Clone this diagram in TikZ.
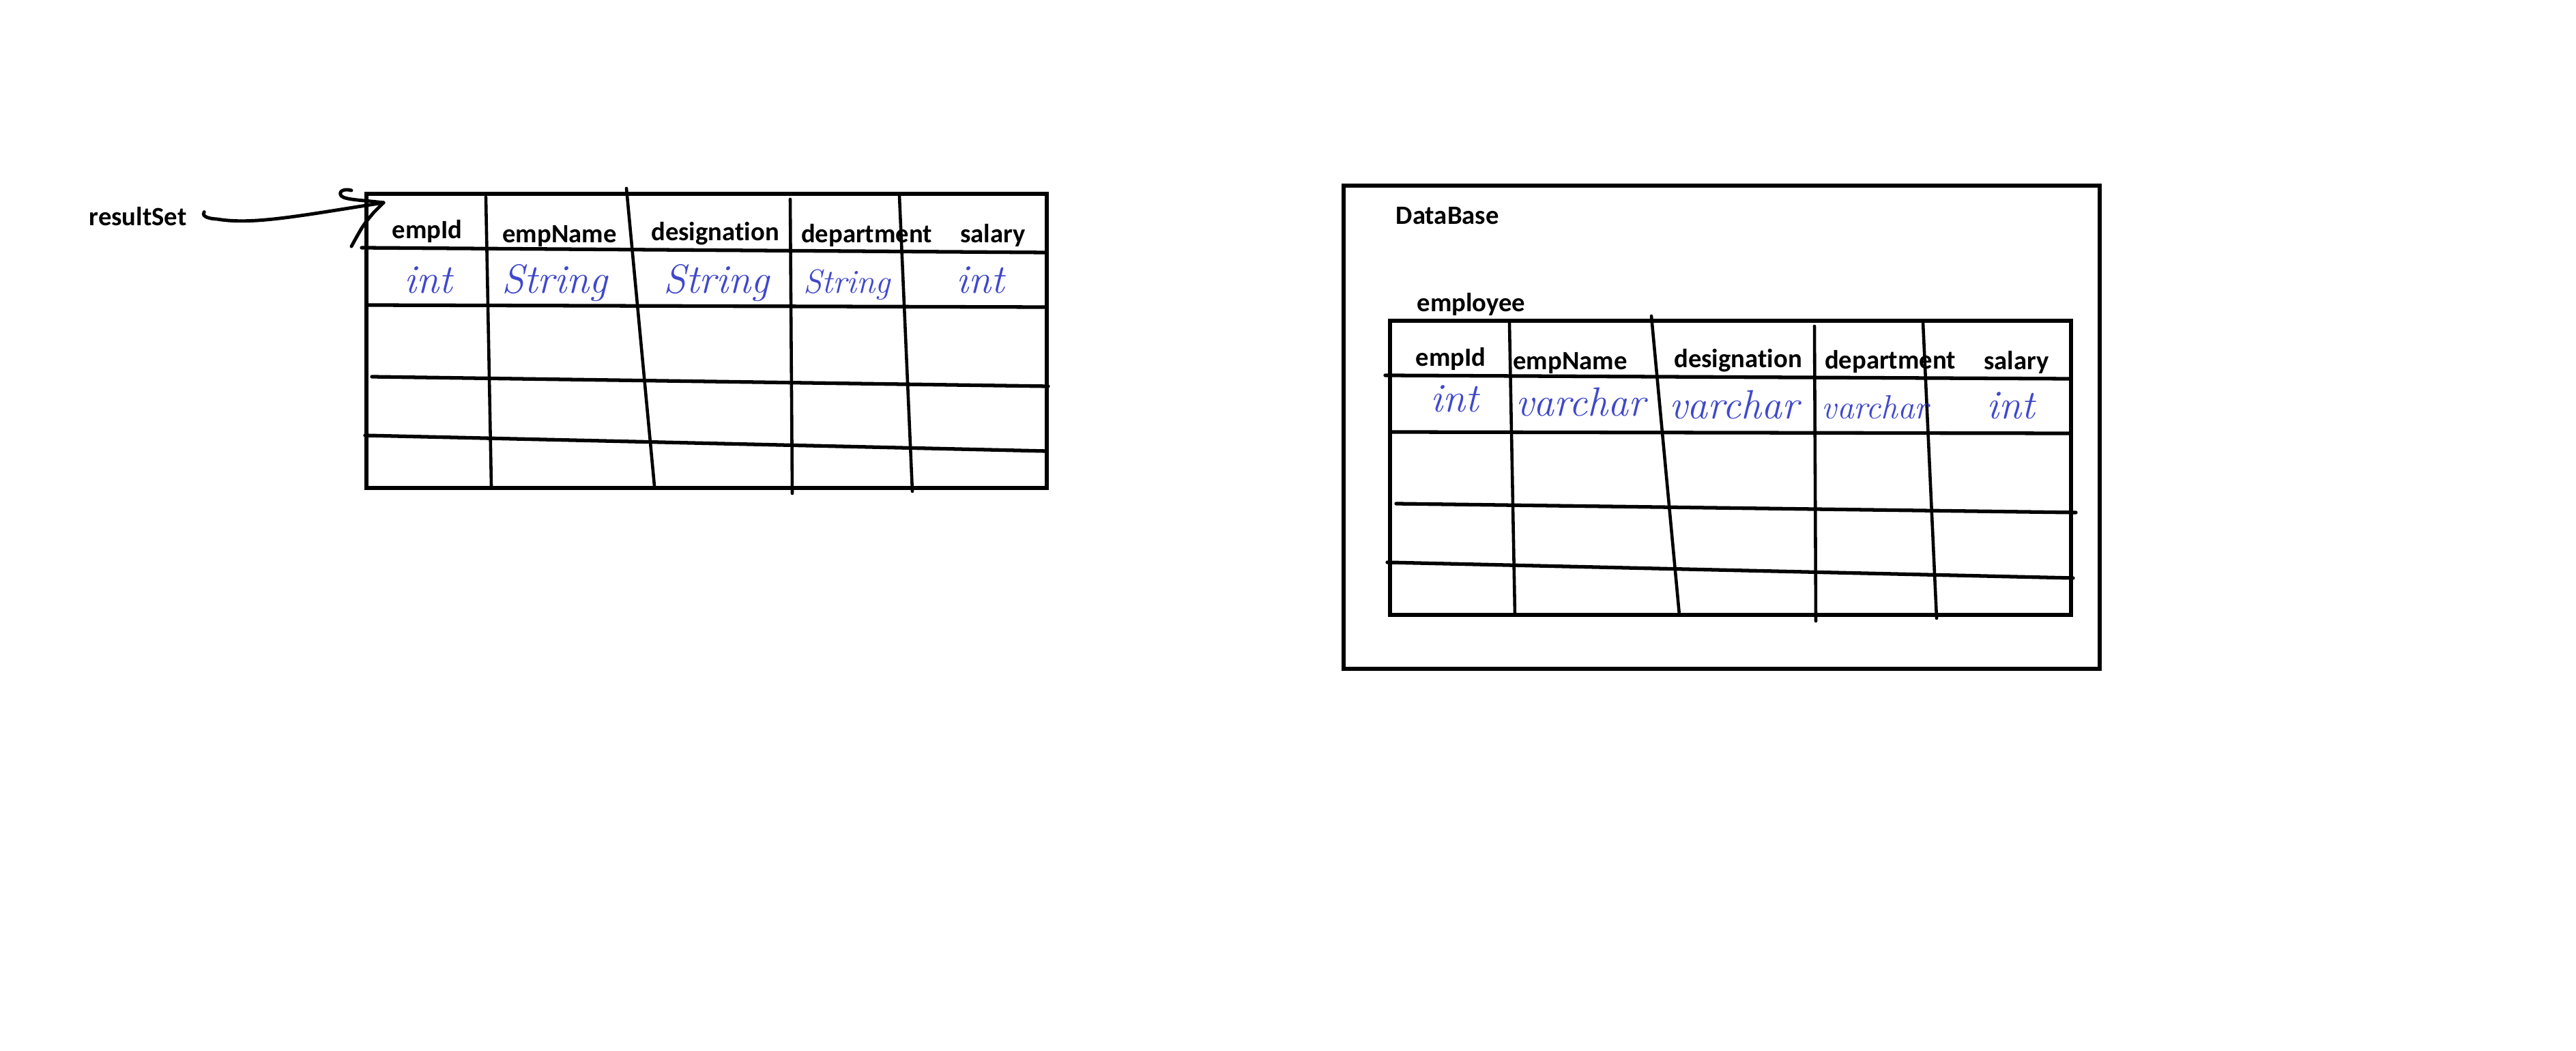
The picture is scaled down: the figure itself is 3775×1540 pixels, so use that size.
\documentclass[tikz,border=0pt]{standalone}
\usepackage{fontspec}
\setsansfont{Carlito}[Ligatures=NoCommon]
\definecolor{inkblue}{RGB}{63,72,204}
\tikzset{
    colhead/.style={font=\sffamily\bfseries\fontsize{11}{13}\selectfont, inner sep=0pt, anchor=base},
    tagtext/.style={font=\sffamily\bfseries\fontsize{11}{13}\selectfont, inner sep=0pt, anchor=base west},
    handtype/.style={font=\itshape\fontsize{17}{20}\selectfont, text=inkblue, inner sep=0pt, anchor=base},
    smallhand/.style={handtype, font=\itshape\fontsize{14}{17}\selectfont},
    frameline/.style={line width=1.5pt},
    rowline/.style={line width=1.5pt, line cap=round},
    colline/.style={line width=1.3pt, line cap=round},
    pen/.style={line width=1.4pt, line cap=round, line join=round}
}
\begin{document}
\begin{tikzpicture}[x=0.01cm, y=-0.01cm]
    \fill[white] (0,0) rectangle (3775,1540);
    \useasboundingbox (0,0) rectangle (3775,1540);

    \node[tagtext] (resultset) at (130,331) {resultSet};
    \coordinate (rstip) at (562,297);
    \draw[pen] ([xshift=0.25cm,yshift=0.07cm]resultset.east) .. controls (296,315) and (300,320) .. (318,321) .. controls (370,330) and (440,316) .. (rstip);
    \draw[pen] (rstip) .. controls (530,293) and (506,293) .. (500,287) .. controls (495,280) and (505,276) .. (515,279);
    \draw[pen] (rstip) -- (548,311) .. controls (532,330) .. (515,361);

    \draw[frameline] (537,284) rectangle (1534,715);
    \draw[rowline] (530,363) -- (1534,370);
    \draw[rowline] (537,447) -- (1534,450);
    \draw[rowline] (545,552) -- (1536,566);
    \draw[rowline] (535,638) -- (1534,661);
    \draw[colline] (712,289) -- (720,712);
    \draw[colline] (918,276) -- (959,712);
    \draw[colline] (1158,292) -- (1161,723);
    \draw[colline] (1318,287) -- (1337,720);

    \node[colhead] (rsempid) at (626,350) {empId};
    \node[colhead] (rsempname) at (820,356) {empName};
    \node[colhead] (rsdesignation) at (1048,353) {designation};
    \node[colhead] (rsdepartment) at (1270,356) {department};
    \node[colhead] (rssalary) at (1455,356) {salary};

    \node[handtype] (rsempidtype) at (628,430) {int};
    \node[handtype] (rsempnametype) at (813,430) {String};
    \node[handtype] (rsdesignationtype) at (1050,430) {String};
    \node[smallhand] (rsdepartmenttype) at (1241,430) {String};
    \node[handtype] (rssalarytype) at (1437,430) {int};

    \draw[frameline] (1969,272) rectangle (3077,980);
    \node[tagtext] (database) at (2045,329) {DataBase};
    \node[tagtext] (employee) at (2076,457) {employee};

    \draw[frameline] (2037,470) rectangle (3035,901);
    \draw[rowline] (2030,550) -- (3035,555);
    \draw[rowline] (2037,633) -- (3035,635);
    \draw[rowline] (2046,738) -- (3042,751);
    \draw[rowline] (2033,824) -- (3038,847);
    \draw[colline] (2212,474) -- (2220,901);
    \draw[colline] (2420,463) -- (2461,901);
    \draw[colline] (2659,478) -- (2661,910);
    \draw[colline] (2818,472) -- (2838,906);

    \node[colhead] (dbempid) at (2126,537) {empId};
    \node[colhead] (dbempname) at (2301,542) {empName};
    \node[colhead] (dbdesignation) at (2547,539) {designation};
    \node[colhead] (dbdepartment) at (2770,541) {department};
    \node[colhead] (dbsalary) at (2955,542) {salary};

    \node[handtype] (dbempidtype) at (2132,604) {int};
    \node[handtype] (dbempnametype) at (2316,610) {varchar};
    \node[handtype] (dbdesignationtype) at (2541,614) {varchar};
    \node[smallhand] (dbdepartmenttype) at (2748,614) {varchar};
    \node[handtype] (dbsalarytype) at (2947,614) {int};
\end{tikzpicture}
\end{document}
